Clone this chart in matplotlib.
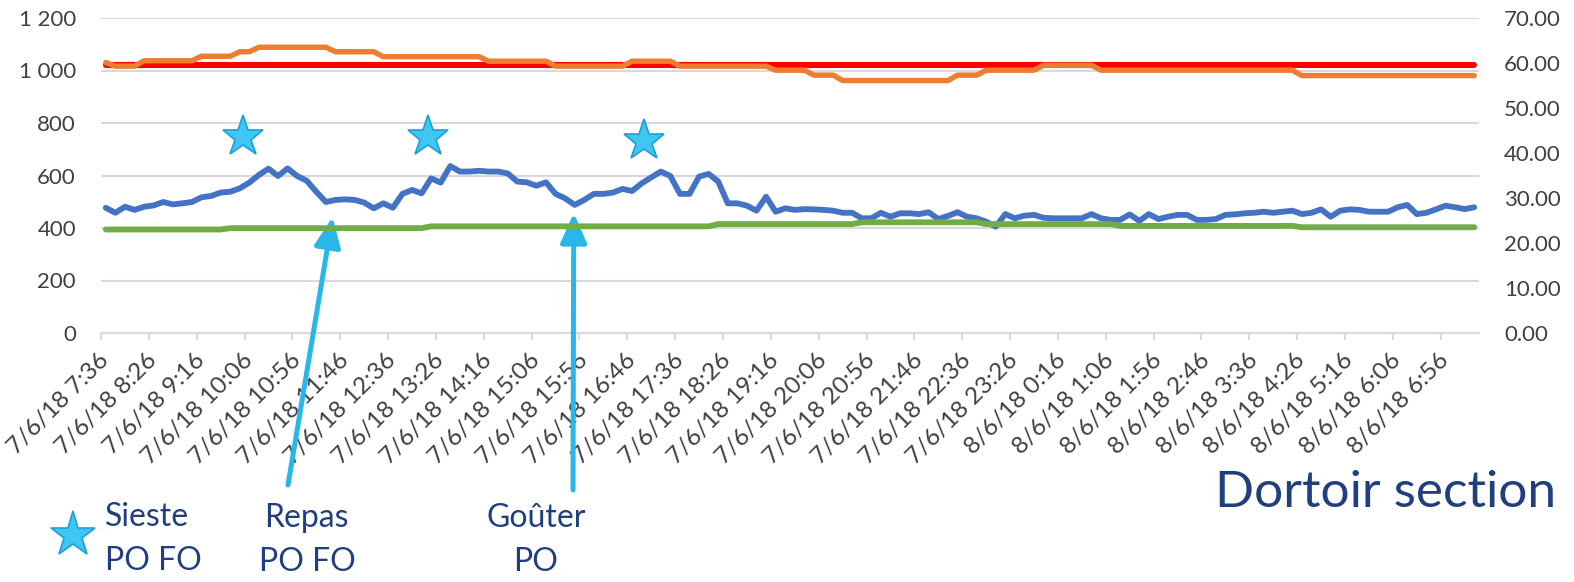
import numpy as np
import matplotlib
matplotlib.use('Agg')
import matplotlib.pyplot as plt
from matplotlib.ticker import FuncFormatter, MultipleLocator

plt.rcParams['font.family'] = ['Lato', 'DejaVu Sans']

# --- data (one reading every 10 minutes, 7/6/18 7:36 -> 8/6/18 7:26) ---
co2 = [
    477, 458, 481, 469, 481, 486, 499, 490, 494, 499, 517, 522, 535, 538, 551, 573, 602, 626, 598, 627, 598, 580, 538, 499,
    507, 509, 507, 497, 475, 494, 477, 530, 545, 532, 589, 573, 636, 615, 615, 618, 615, 615, 608, 577, 574, 561, 574, 530,
    513, 488, 507, 530, 530, 535, 549, 541, 570, 593, 615, 598, 530, 530, 596, 606, 577, 494, 494, 485, 466, 519, 462, 475,
    469, 472, 471, 469, 466, 458, 458, 437, 437, 458, 443, 456, 456, 453, 460, 434, 446, 460, 443, 437, 424, 405, 453, 437,
    447, 450, 439, 437, 437, 437, 437, 453, 437, 431, 431, 452, 427, 453, 434, 443, 450, 450, 431, 431, 434, 450, 452, 456,
    458, 462, 458, 462, 466, 453, 458, 471, 443, 466, 471, 469, 462, 462, 462, 479, 488, 453, 458, 471, 485, 479, 472, 479,
]
humidite = [
    60.1, 59.3, 59.3, 59.3, 60.5, 60.5, 60.5, 60.5, 60.5, 60.5, 61.5, 61.5, 61.5, 61.5, 62.5, 62.5, 63.5, 63.5, 63.5, 63.5, 63.5, 63.5, 63.5, 63.5,
    62.5, 62.5, 62.5, 62.5, 62.5, 61.4, 61.4, 61.4, 61.4, 61.4, 61.4, 61.4, 61.4, 61.4, 61.4, 61.4, 60.4, 60.4, 60.4, 60.4, 60.4, 60.4, 60.4, 59.3,
    59.3, 59.3, 59.3, 59.3, 59.3, 59.3, 59.3, 60.4, 60.4, 60.4, 60.4, 60.4, 59.3, 59.3, 59.3, 59.3, 59.3, 59.3, 59.3, 59.3, 59.3, 59.3, 58.4, 58.4,
    58.4, 58.4, 57.3, 57.3, 57.3, 56.1, 56.1, 56.1, 56.1, 56.1, 56.1, 56.1, 56.1, 56.1, 56.1, 56.1, 56.1, 57.3, 57.3, 57.3, 58.4, 58.4, 58.4, 58.4,
    58.4, 58.4, 59.5, 59.5, 59.5, 59.5, 59.5, 59.5, 58.4, 58.4, 58.4, 58.4, 58.4, 58.4, 58.4, 58.4, 58.4, 58.4, 58.4, 58.4, 58.4, 58.4, 58.4, 58.4,
    58.4, 58.4, 58.4, 58.4, 58.4, 57.2, 57.2, 57.2, 57.2, 57.2, 57.2, 57.2, 57.2, 57.2, 57.2, 57.2, 57.2, 57.2, 57.2, 57.2, 57.2, 57.2, 57.2, 57.2,
]
temperature = [
    23.0, 23.0, 23.0, 23.0, 23.0, 23.0, 23.0, 23.0, 23.0, 23.0, 23.0, 23.0, 23.0, 23.3, 23.3, 23.3, 23.3, 23.3, 23.3, 23.3, 23.3, 23.3, 23.3, 23.3,
    23.3, 23.3, 23.3, 23.3, 23.3, 23.3, 23.3, 23.3, 23.3, 23.3, 23.7, 23.7, 23.7, 23.7, 23.7, 23.7, 23.7, 23.7, 23.7, 23.7, 23.7, 23.7, 23.7, 23.7,
    23.7, 23.7, 23.7, 23.7, 23.7, 23.7, 23.7, 23.7, 23.7, 23.7, 23.7, 23.7, 23.7, 23.7, 23.7, 23.7, 24.2, 24.2, 24.2, 24.2, 24.2, 24.2, 24.2, 24.2,
    24.2, 24.2, 24.2, 24.2, 24.2, 24.2, 24.2, 24.6, 24.6, 24.6, 24.6, 24.6, 24.6, 24.6, 24.6, 24.6, 24.6, 24.6, 24.6, 24.6, 24.2, 24.2, 24.2, 24.2,
    24.2, 24.2, 24.2, 24.2, 24.2, 24.2, 24.2, 24.2, 24.2, 24.2, 23.8, 23.8, 23.8, 23.8, 23.8, 23.8, 23.8, 23.8, 23.8, 23.8, 23.8, 23.8, 23.8, 23.8,
    23.8, 23.8, 23.8, 23.8, 23.8, 23.5, 23.5, 23.5, 23.5, 23.5, 23.5, 23.5, 23.5, 23.5, 23.5, 23.5, 23.5, 23.5, 23.5, 23.5, 23.5, 23.5, 23.5, 23.5,
]
seuil_humidite = 59.6  # red reference line (right axis)

tick_labels = [
    '7/6/18 7:36', '7/6/18 8:26', '7/6/18 9:16', '7/6/18 10:06', '7/6/18 10:56', '7/6/18 11:46',
    '7/6/18 12:36', '7/6/18 13:26', '7/6/18 14:16', '7/6/18 15:06', '7/6/18 15:56', '7/6/18 16:46',
    '7/6/18 17:36', '7/6/18 18:26', '7/6/18 19:16', '7/6/18 20:06', '7/6/18 20:56', '7/6/18 21:46',
    '7/6/18 22:36', '7/6/18 23:26', '8/6/18 0:16', '8/6/18 1:06', '8/6/18 1:56', '8/6/18 2:46',
    '8/6/18 3:36', '8/6/18 4:26', '8/6/18 5:16', '8/6/18 6:06', '8/6/18 6:56',
]
label_step = 5

# annotations (category index)
siestes = [14.3, 33.7, 56.2]
sieste_level = [745, 745, 733]
repas = 23.7
gouter = 48.9

# --- figure ---
W, H = 1574, 582
fig = plt.figure(figsize=(W / 100, H / 100), dpi=100)
px = lambda x, y: (x / W, 1 - y / H)

x0, x1, y0, y1 = 101, 1479, 18, 333
ax1 = fig.add_axes([x0 / W, 1 - y1 / H, (x1 - x0) / W, (y1 - y0) / H])
ax2 = ax1.twinx()

n = len(co2)
x = np.arange(n)
grid_c = '#d9d9d9'
txt_c = '#404040'

ax1.plot(x, co2, color='#4472C4', lw=4.2, solid_joinstyle='round', solid_capstyle='round', zorder=3)
ax2.hlines(seuil_humidite, 0, n - 1, color='#FF0000', lw=4.4, capstyle='round', zorder=2)
ax2.plot(x, humidite, color='#ED7D31', lw=3.9, solid_joinstyle='round', solid_capstyle='round', zorder=3)
ax2.plot(x, temperature, color='#70AD47', lw=4.2, solid_joinstyle='round', solid_capstyle='round', zorder=3)

ax1.set_xlim(-0.5, n - 0.5)
ax1.set_ylim(0, 1200)
ax2.set_ylim(0, 70)
ax1.yaxis.set_major_locator(MultipleLocator(200))
ax2.yaxis.set_major_locator(MultipleLocator(10))
ax1.yaxis.set_major_formatter(FuncFormatter(lambda v, p: f'{int(v):,}'.replace(',', ' ')))
ax2.yaxis.set_major_formatter(FuncFormatter(lambda v, p: f'{v:.2f}'))

ax1.grid(axis='y', color=grid_c, lw=1.5)
ax1.set_axisbelow(True)
for sp in ['top', 'left', 'right']:
    ax1.spines[sp].set_visible(False)
for sp in ax2.spines.values():
    sp.set_visible(False)
ax1.spines['bottom'].set_color(grid_c)
ax1.spines['bottom'].set_linewidth(1.5)

ax1.set_xticks(np.arange(0, n, label_step)[:len(tick_labels)])
ax1.set_xticklabels(tick_labels, rotation=45, ha='right', va='center', rotation_mode='anchor')
ax1.set_xticks(np.arange(-0.5, n - 1, label_step), minor=True)
ax1.tick_params(axis='x', which='major', length=0, pad=17, labelsize=17.5, labelcolor=txt_c)
ax1.tick_params(axis='x', which='minor', length=5, width=1.5, color=grid_c)
ax1.tick_params(axis='y', length=0, pad=18, labelsize=16, labelcolor=txt_c)
ax2.tick_params(axis='y', length=0, pad=18, labelsize=16, labelcolor=txt_c)

# stars for "Sieste"
star_kw = dict(marker='*', markersize=31, markerfacecolor='#3fc6f2', markeredgecolor='#1d9fd8',
               markeredgewidth=1.2, linestyle='none', zorder=5)
ax1.plot(siestes, sieste_level, **star_kw)

# arrows for meals
arrow_kw = dict(arrowstyle='-|>,head_width=0.4,head_length=0.9', color='#29b6e8', lw=3.6,
                shrinkA=0, shrinkB=0, mutation_scale=20)
ax1.annotate('', xy=(repas, 442), xycoords='data', xytext=px(288, 485), textcoords='figure fraction',
             arrowprops=arrow_kw, annotation_clip=False, zorder=6)
ax1.annotate('', xy=(gouter, 457), xycoords='data', xytext=px(573, 490), textcoords='figure fraction',
             arrowprops=arrow_kw, annotation_clip=False, zorder=6)

# legend-like texts below
lab_c = '#203f7f'
fig.lines.append(plt.Line2D([73 / W], [1 - 535 / H], transform=fig.transFigure, marker='*', markersize=34,
                            markerfacecolor='#3fc6f2', markeredgecolor='#1d9fd8', markeredgewidth=1.2))
fig.text(*px(105, 517), 'Sieste', color=lab_c, fontsize=23, ha='left', va='center')
fig.text(*px(105, 561), 'PO FO', color=lab_c, fontsize=23, ha='left', va='center')
fig.text(*px(306, 518), 'Repas', color=lab_c, fontsize=23, ha='center', va='center')
fig.text(*px(307, 562), 'PO FO', color=lab_c, fontsize=23, ha='center', va='center')
fig.text(*px(536, 518), 'Goûter', color=lab_c, fontsize=23, ha='center', va='center')
fig.text(*px(536, 562), 'PO', color=lab_c, fontsize=23, ha='center', va='center')
fig.text(*px(1556, 493), 'Dortoir section', color=lab_c, fontsize=37, ha='right', va='center')

fig.savefig('out.png', dpi=100)
